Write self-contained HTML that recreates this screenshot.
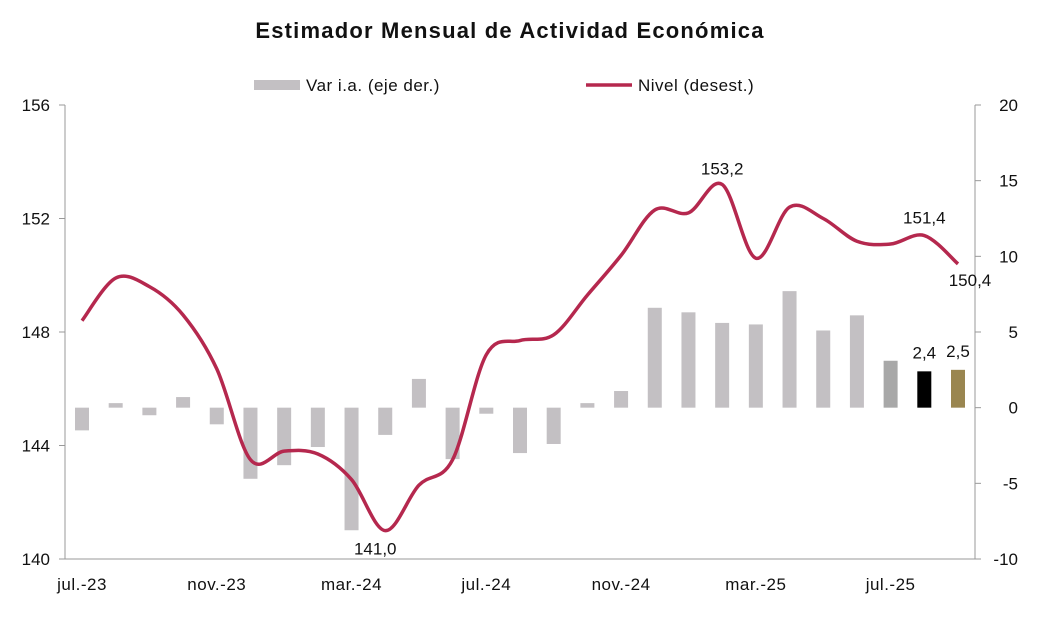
<!DOCTYPE html>
<html><head><meta charset="utf-8"><style>
body{margin:0;background:#fff;font-family:"Liberation Sans",sans-serif;}
svg text{font-family:"Liberation Sans",sans-serif;fill:#111;}
</style></head><body>
<svg id="c" width="1063" height="627"></svg>
<script>
const months=["jul.-23","ago.-23","sep.-23","oct.-23","nov.-23","dic.-23","ene.-24","feb.-24","mar.-24","abr.-24","may.-24","jun.-24","jul.-24","ago.-24","sep.-24","oct.-24","nov.-24","dic.-24","ene.-25","feb.-25","mar.-25","abr.-25","may.-25","jun.-25","jul.-25","ago.-25","sep.-25"];
const barValues=[-1.5,0.3,-0.5,0.7,-1.1,-4.7,-3.8,-2.6,-8.1,-1.8,1.9,-3.4,-0.4,-3.0,-2.4,0.3,1.1,6.6,6.3,5.6,5.5,7.7,5.1,6.1,3.1,2.4,2.5];
const lineValues=[148.4,149.9,149.6,148.6,146.7,143.5,143.8,143.7,142.8,141.0,142.6,143.5,147.2,147.7,147.9,149.3,150.7,152.3,152.2,153.2,150.6,152.4,152.0,151.2,151.1,151.4,150.4];
const leftTicks=[140,144,148,152,156];
const rightTicks=[-10,-5,0,5,10,15,20];
const xTickIdx=[0,4,8,12,16,20,24];
const ns="http://www.w3.org/2000/svg",svg=document.getElementById('c');
function el(t,a,p){const e=document.createElementNS(ns,t);for(const k in a)e.setAttribute(k,a[k]);(p||svg).appendChild(e);return e;}
const X0=65,X1=975,Y0=105,Y1=559;
const step=(X1-X0-2*17)/(months.length-1);
const x=i=>X0+17+i*step;
const yL=v=>Y1-(v-140)/16*(Y1-Y0);
const yR=v=>Y1-(v+10)/30*(Y1-Y0);
let t=el('text',{x:510,y:38,'text-anchor':'middle','font-size':22,'font-weight':'bold','letter-spacing':'1.2'});t.textContent="Estimador Mensual de Actividad Económica";

let a=el('line',{x1:X0,y1:Y0,x2:X0,y2:Y1,stroke:'#999'});
a=el('line',{x1:X1,y1:Y0,x2:X1,y2:Y1,stroke:'#999'});
a=el('line',{x1:X0,y1:Y1,x2:X1,y2:Y1,stroke:'#999'});
leftTicks.forEach(v=>{el('line',{x1:X0-6,x2:X0,y1:yL(v),y2:yL(v),stroke:'#999'});
 const e=el('text',{x:50,y:yL(v)+6,'text-anchor':'end','font-size':17});e.textContent=v;
 });
rightTicks.forEach(v=>{el('line',{x1:X1,x2:X1+6,y1:yR(v),y2:yR(v),stroke:'#999'});
 const e=el('text',{x:1018,y:yR(v)+6,'text-anchor':'end','font-size':17});e.textContent=v;
 });
xTickIdx.forEach(i=>{const e=el('text',{x:x(i),y:590,'text-anchor':'middle','font-size':17,'letter-spacing':'0.5'});e.textContent=months[i];
 });
const n=barValues.length;
barValues.forEach((v,i)=>{let col='#c3c0c3';if(i==n-3)col='#a8a8a8';if(i==n-2)col='#000';if(i==n-1)col='#9a8650';
 const y0=yR(0),y1=yR(v);
 const r=el('rect',{x:x(i)-7,y:Math.min(y0,y1),width:14,height:Math.abs(y1-y0),fill:col});
 });
[n-2,n-1].forEach(i=>{const e=el('text',{x:x(i),y:yR(barValues[i])-13,'text-anchor':'middle','font-size':17});e.textContent=barValues[i].toFixed(1).replace('.',',');
 });
const pts=lineValues.map((v,i)=>[x(i),yL(v)]);
let d='M'+pts[0][0]+','+pts[0][1];
for(let i=0;i<pts.length-1;i++){const p0=pts[Math.max(0,i-1)],p1=pts[i],p2=pts[i+1],p3=pts[Math.min(pts.length-1,i+2)];
 d+=` C${p1[0]+(p2[0]-p0[0])/6},${p1[1]+(p2[1]-p0[1])/6} ${p2[0]-(p3[0]-p1[0])/6},${p2[1]-(p3[1]-p1[1])/6} ${p2[0]},${p2[1]}`;}
const ln=el('path',{d:d,fill:'none',stroke:'#b5284e','stroke-width':3.5});

function lab(i,dx,dy){const e=el('text',{x:x(i)+dx,y:yL(lineValues[i])+dy,'text-anchor':'middle','font-size':17});e.textContent=lineValues[i].toFixed(1).replace('.',',');
 }
lab(9,-10,24);lab(19,0,-10);lab(25,0,-12);lab(26,12,22);
let g=el('g',{});
el('rect',{x:254,y:80,width:46,height:10,fill:'#c3c0c3'},g);
let lt=el('text',{x:306,y:91,'font-size':17,'letter-spacing':'0.5'},g);lt.textContent="Var i.a. (eje der.)";
g=el('g',{});
el('line',{x1:586,x2:632,y1:85,y2:85,stroke:'#b5284e','stroke-width':3.5},g);
lt=el('text',{x:638,y:91,'font-size':17,'letter-spacing':'0.5'},g);lt.textContent="Nivel (desest.)";
</script>
</body></html>
